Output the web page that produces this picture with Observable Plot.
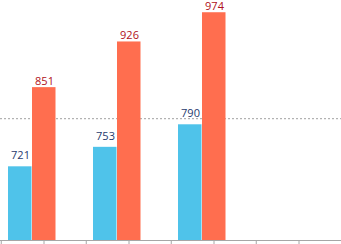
<!DOCTYPE html>
<html>
<head>
<meta charset="utf-8">
<script src="https://cdn.jsdelivr.net/npm/d3@7"></script>
<script src="https://cdn.jsdelivr.net/npm/@observablehq/plot@0.6"></script>
<style>
  html, body { margin: 0; padding: 0; background: #fff; }
  svg { display: block; }
</style>
</head>
<body>
<div id="chart"></div>
<script>
// Data
const categories = ["G1", "G2", "G3", "G4"];
const seriesBlue = [721, 753, 790];
const seriesRed = [851, 926, 974];
const referenceLine = [800];
const yDomain = [600, 1000];

const blueRows = seriesBlue.map((v, i) => ({cat: categories[i], value: v}));
const redRows = seriesRed.map((v, i) => ({cat: categories[i], value: v}));

const BLUE = "#4fc3ea";
const RED = "#ff6e4f";
const GRAY = "#a6a6a6";
const FONT = "'Open Sans', 'Liberation Sans', sans-serif";

const chart = Plot.plot({
  width: 341,
  height: 244,
  marginTop: 0,
  marginBottom: 4,
  marginLeft: 0,
  marginRight: 0,
  style: {fontFamily: FONT, background: "#fff"},
  x: {domain: categories, range: [0, 342], padding: 0, axis: null, label: null},
  y: {domain: yDomain, range: [240, -3.6], axis: null, label: null},
  marks: [
    Plot.ruleY(referenceLine, {stroke: "#a0a0a0", strokeDasharray: "2,2", strokeWidth: 1}),
    Plot.barY(blueRows, {x: "cat", y1: yDomain[0], y2: "value", fill: BLUE, insetLeft: 7, insetRight: 54.5}),
    Plot.barY(redRows, {x: "cat", y1: yDomain[0], y2: "value", fill: RED, insetLeft: 31, insetRight: 30.5}),
    Plot.text(blueRows, {x: "cat", y: "value", text: d => String(d.value), dx: -23.5, dy: -7.5, lineAnchor: "bottom", fill: "#1f3a6e", fontSize: 11}),
    Plot.text(redRows, {x: "cat", y: "value", text: d => String(d.value), dx: 0.5, dy: -3, lineAnchor: "bottom", fill: "#b01020", fontSize: 11}),
    Plot.ruleY([yDomain[0]], {stroke: GRAY}),
    Plot.axisX({tickSize: 4, tickFormat: () => "", label: null, stroke: GRAY}),
    Plot.axisX({tickSize: 4, tickFormat: () => "", label: null, stroke: GRAY, dx: -42.75})
  ]
});
document.getElementById("chart").appendChild(chart);
</script>
</body>
</html>
